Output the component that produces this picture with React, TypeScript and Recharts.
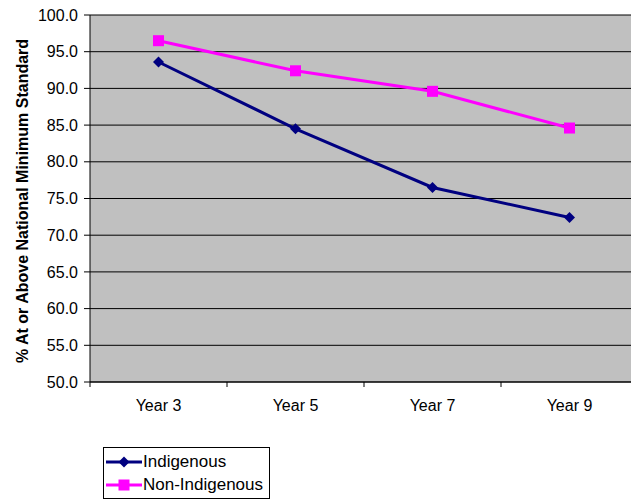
import { LineChart, Line, XAxis, YAxis, CartesianGrid, Legend } from 'recharts'

const years = ['Year 3', 'Year 5', 'Year 7', 'Year 9']
const indigenous = [93.6, 84.5, 76.5, 72.4]
const nonIndigenous = [96.5, 92.4, 89.6, 84.6]
const yTicks = [50, 55, 60, 65, 70, 75, 80, 85, 90, 95, 100]

const data = years.map((year, i) => ({
  year,
  indigenous: indigenous[i],
  nonIndigenous: nonIndigenous[i],
}))

const NAVY = '#000080'
const MAGENTA = '#FF00FF'
const FONT = '"Liberation Sans", Arial, sans-serif'

const WIDTH = 640
const HEIGHT = 499
const MARGIN = { top: 15, right: 2, left: 20, bottom: 87 }
const Y_WIDTH = 70
// half of one category band: points sit in the middle of each band, ticks on the edges
const HALF_BAND = (WIDTH - MARGIN.left - Y_WIDTH - MARGIN.right) / years.length / 2

function Diamond({ cx, cy, fill }: any) {
  if (cx == null || cy == null) return null
  const r = 5.5
  return <path d={`M${cx},${cy - r}L${cx + r},${cy}L${cx},${cy + r}L${cx - r},${cy}Z`} fill={fill} />
}

function Square({ cx, cy, fill }: any) {
  if (cx == null || cy == null) return null
  const s = 5.5
  return <rect x={cx - s} y={cy - s} width={s * 2} height={s * 2} fill={fill} />
}

function XTick({ x, y, payload, index }: any) {
  return (
    <g>
      <line x1={x - HALF_BAND} y1={y} x2={x - HALF_BAND} y2={y + 5} stroke="#000" />
      {index === years.length - 1 && (
        <line x1={x + HALF_BAND} y1={y} x2={x + HALF_BAND} y2={y + 5} stroke="#000" />
      )}
      <text x={x} y={y + 29} textAnchor="middle" fontSize={16} fontFamily={FONT} fill="#000">
        {payload.value}
      </text>
    </g>
  )
}

function YTitle() {
  const cx = 22
  const cy = 201
  return (
    <text
      x={cx}
      y={cy}
      transform={`rotate(-90, ${cx}, ${cy})`}
      textAnchor="middle"
      dominantBaseline="central"
      fontSize={16}
      fontWeight="bold"
      fontFamily={FONT}
      fill="#000"
    >
      % At or Above National Minimum Standard
    </text>
  )
}

function LegendBox() {
  const rows = [
    { label: 'Indigenous', color: NAVY, marker: 'diamond' },
    { label: 'Non-Indigenous', color: MAGENTA, marker: 'square' },
  ]
  return (
    <div
      style={{
        border: '1px solid #000',
        background: '#fff',
        padding: '2px 4px 2px 1px',
        fontFamily: FONT,
        fontSize: 17,
        lineHeight: '23px',
        width: 160,
      }}
    >
      {rows.map((r) => (
        <div key={r.label} style={{ display: 'flex', alignItems: 'center', height: 23 }}>
          <svg width={37} height={14} style={{ marginRight: 1 }}>
            <line x1={1} y1={7} x2={37} y2={7} stroke={r.color} strokeWidth={3} />
            {r.marker === 'diamond' ? (
              <Diamond cx={19} cy={7} fill={r.color} />
            ) : (
              <Square cx={19} cy={7} fill={r.color} />
            )}
          </svg>
          <span>{r.label}</span>
        </div>
      ))}
    </div>
  )
}

export default function App() {
  return (
    <div style={{ position: 'absolute', left: 0, top: 0, width: 631, height: HEIGHT, overflow: 'hidden', background: '#fff' }}>
      <LineChart width={WIDTH} height={HEIGHT} data={data} margin={MARGIN}>
        <CartesianGrid vertical={false} stroke="#000" fill="#C0C0C0" fillOpacity={1} />
        <XAxis
          dataKey="year"
          axisLine={{ stroke: '#000' }}
          tickLine={false}
          tickSize={0}
          tickMargin={0}
          height={30}
          padding={{ left: HALF_BAND, right: HALF_BAND }}
          tick={<XTick />}
          interval={0}
        />
        <YAxis
          domain={[50, 100]}
          ticks={yTicks}
          width={Y_WIDTH}
          tickFormatter={(v: number) => v.toFixed(1)}
          axisLine={{ stroke: '#000' }}
          tickLine={{ stroke: '#000' }}
          tickSize={6}
          tickMargin={6}
          tick={{ fontSize: 16, fontFamily: FONT, fill: '#000' }}
          label={<YTitle />}
          interval={0}
        />
        <Legend
          layout="horizontal"
          verticalAlign="middle"
          align="center"
          content={<LegendBox />}
          wrapperStyle={{ left: 103, top: 447, width: 'auto', height: 'auto' }}
        />
        <Line
          dataKey="indigenous"
          name="Indigenous"
          stroke={NAVY}
          strokeWidth={3}
          dot={<Diamond fill={NAVY} />}
          activeDot={false}
          isAnimationActive={false}
        />
        <Line
          dataKey="nonIndigenous"
          name="Non-Indigenous"
          stroke={MAGENTA}
          strokeWidth={3}
          dot={<Square fill={MAGENTA} />}
          activeDot={false}
          isAnimationActive={false}
        />
      </LineChart>
    </div>
  )
}
